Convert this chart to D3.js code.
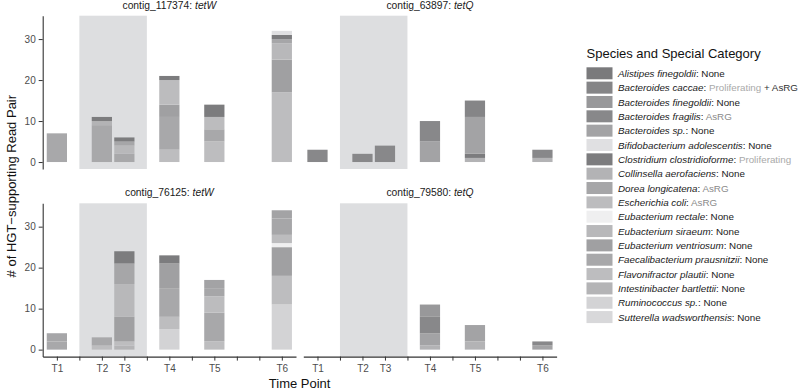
<!DOCTYPE html>
<html>
<head>
<meta charset="utf-8">
<script src="https://cdn.jsdelivr.net/npm/d3@7"></script>
<style>
  body { margin: 0; background: #fff; }
  text { font-family: "Liberation Sans", Arial, sans-serif; }
</style>
</head>
<body>
<script>
// time points: label and position on the (day-like) x scale
const timeLabels = ["T1", "T2", "T3", "T4", "T5", "T6"]
const timePos = [1, 3, 4, 6, 8, 11]
const tickPos = d3.range(1, 12)
const shadedSpan = [2, 5]
const yTicks = [0, 10, 20, 30]

const species = [
  "Alistipes finegoldii", "Bacteroides caccae", "Bacteroides finegoldii",
  "Bacteroides fragilis", "Bacteroides sp.", "Bifidobacterium adolescentis",
  "Clostridium clostridioforme", "Collinsella aerofaciens", "Dorea longicatena",
  "Escherichia coli", "Eubacterium rectale", "Eubacterium siraeum",
  "Eubacterium ventriosum", "Faecalibacterium prausnitzii", "Flavonifractor plautii",
  "Intestinibacter bartlettii", "Ruminococcus sp.", "Sutterella wadsworthensis"
]
const specialCategory = [
  "None", "Proliferating + AsRG", "None", "AsRG", "None", "None",
  "Proliferating", "None", "AsRG", "AsRG", "None", "None",
  "None", "None", "None", "None", "None", "None"
]
const shades = [
  "#7a7a7c", "#858587", "#98989a", "#88888a", "#a3a3a5", "#e0e0e2",
  "#7c7c7e", "#b3b3b5", "#a6a6a8", "#bcbcbe", "#efeff0", "#b8b8ba",
  "#a0a0a2", "#a8a8aa", "#bdbdbf", "#b4b4b6", "#d3d3d5", "#d8d8da"
]

const panelTitles = [
  ["contig_117374: ", "tetW"], ["contig_63897: ", "tetQ"],
  ["contig_76125: ", "tetW"], ["contig_79580: ", "tetQ"]
]

// [time point, species, read pairs]
const contig117374 = [
  ["T1", "Faecalibacterium prausnitzii", 7],
  ["T2", "Clostridium clostridioforme", 1], ["T2", "Collinsella aerofaciens", 1],
  ["T2", "Faecalibacterium prausnitzii", 9],
  ["T3", "Clostridium clostridioforme", 1], ["T3", "Dorea longicatena", 1],
  ["T3", "Eubacterium siraeum", 2], ["T3", "Faecalibacterium prausnitzii", 2],
  ["T4", "Clostridium clostridioforme", 1], ["T4", "Escherichia coli", 6],
  ["T4", "Eubacterium ventriosum", 3], ["T4", "Faecalibacterium prausnitzii", 8],
  ["T4", "Flavonifractor plautii", 3],
  ["T5", "Clostridium clostridioforme", 3], ["T5", "Escherichia coli", 3],
  ["T5", "Faecalibacterium prausnitzii", 3], ["T5", "Flavonifractor plautii", 5],
  ["T6", "Bifidobacterium adolescentis", 1], ["T6", "Clostridium clostridioforme", 1],
  ["T6", "Dorea longicatena", 1], ["T6", "Eubacterium siraeum", 4],
  ["T6", "Eubacterium ventriosum", 8], ["T6", "Flavonifractor plautii", 17]
]
const contig63897 = [
  ["T1", "Bacteroides fragilis", 3],
  ["T2", "Bacteroides fragilis", 2],
  ["T3", "Bacteroides fragilis", 4],
  ["T4", "Bacteroides fragilis", 5], ["T4", "Bacteroides sp.", 5],
  ["T5", "Bacteroides caccae", 4], ["T5", "Bacteroides sp.", 9],
  ["T5", "Clostridium clostridioforme", 1], ["T5", "Collinsella aerofaciens", 1],
  ["T6", "Bacteroides fragilis", 2], ["T6", "Collinsella aerofaciens", 1]
]
const contig76125 = [
  ["T1", "Dorea longicatena", 2], ["T1", "Faecalibacterium prausnitzii", 2],
  ["T2", "Faecalibacterium prausnitzii", 2], ["T2", "Flavonifractor plautii", 1],
  ["T3", "Clostridium clostridioforme", 3], ["T3", "Dorea longicatena", 5],
  ["T3", "Eubacterium siraeum", 8], ["T3", "Eubacterium ventriosum", 6],
  ["T3", "Flavonifractor plautii", 1], ["T3", "Intestinibacter bartlettii", 1],
  ["T4", "Clostridium clostridioforme", 2], ["T4", "Eubacterium ventriosum", 6],
  ["T4", "Faecalibacterium prausnitzii", 7], ["T4", "Flavonifractor plautii", 3],
  ["T4", "Ruminococcus sp.", 5],
  ["T5", "Bacteroides sp.", 2], ["T5", "Dorea longicatena", 2],
  ["T5", "Escherichia coli", 4], ["T5", "Faecalibacterium prausnitzii", 7],
  ["T5", "Flavonifractor plautii", 2],
  ["T6", "Bacteroides sp.", 2], ["T6", "Dorea longicatena", 4],
  ["T6", "Escherichia coli", 2], ["T6", "Eubacterium rectale", 1],
  ["T6", "Eubacterium ventriosum", 7], ["T6", "Flavonifractor plautii", 7],
  ["T6", "Ruminococcus sp.", 11]
]
const contig79580 = [
  ["T4", "Bacteroides finegoldii", 3], ["T4", "Bacteroides fragilis", 4],
  ["T4", "Bacteroides sp.", 3], ["T4", "Collinsella aerofaciens", 1],
  ["T5", "Bacteroides sp.", 4], ["T5", "Collinsella aerofaciens", 2],
  ["T6", "Bacteroides fragilis", 1], ["T6", "Bacteroides sp.", 1]
]
const panelCounts = [contig117374, contig63897, contig76125, contig79580]

const width = 800
const height = 391
const panelW = 253.3
const panelH = 153.3
const panelLeft = [42.7, 303.3]
const panelTop = [15.7, 203.3]

const svg = d3.select("body").append("svg")
  .attr("width", width)
  .attr("height", height)

const x = d3.scaleLinear().domain([0.37, 11.63]).range([0, panelW])
const y = d3.scaleLinear().domain([-1.7, 35.7]).range([panelH, 0])
const shade = d3.scaleOrdinal().domain(species).range(shades)

// first factor level sits on top of the stack, so stack keys in reverse
const stack = d3.stack().keys(species.slice().reverse()).value((row, k) => row[k] || 0)

panelCounts.forEach((counts, i) => {
  const col = i % 2, row = Math.floor(i / 2)
  const g = svg.append("g")
    .attr("transform", `translate(${panelLeft[col]}, ${panelTop[row]})`)

  g.append("rect")
    .attr("x", x(shadedSpan[0]))
    .attr("width", x(shadedSpan[1]) - x(shadedSpan[0]))
    .attr("y", 0)
    .attr("height", panelH)
    .attr("fill", "#dddee0")

  const table = timeLabels.map(t => {
    const r = { time: t }
    counts.filter(c => c[0] === t).forEach(c => { r[c[1]] = c[2] })
    return r
  })
  const posOf = t => timePos[timeLabels.indexOf(t)]

  g.selectAll("g.layer")
    .data(stack(table))
    .enter().append("g")
    .attr("class", "layer")
    .attr("fill", d => shade(d.key))
    .selectAll("rect")
    .data(d => d.filter(s => s[1] > s[0]))
    .enter().append("rect")
    .attr("x", d => x(posOf(d.data.time) - 0.45))
    .attr("width", x(0.9) - x(0))
    .attr("y", d => y(d[1]))
    .attr("height", d => y(d[0]) - y(d[1]))

  const title = g.append("text")
    .attr("x", panelW / 2)
    .attr("y", -7)
    .attr("text-anchor", "middle")
    .attr("font-size", 10.3)
    .attr("fill", "#1a1a1a")
  title.append("tspan").text(panelTitles[i][0])
  title.append("tspan").attr("font-style", "italic").text(panelTitles[i][1])

  if (col === 0) {
    const ya = g.append("g")
      .call(d3.axisLeft(y).tickValues(yTicks).tickSize(4).tickPadding(3).tickSizeOuter(0))
    ya.selectAll("text").attr("font-size", 10).attr("fill", "#4d4d4d")
    ya.selectAll("line, path").attr("stroke", "#333")
  }
  if (row === 1) {
    const xa = g.append("g")
      .attr("transform", `translate(0, ${panelH})`)
      .call(d3.axisBottom(x).tickValues(tickPos).tickSize(4).tickPadding(4).tickSizeOuter(0)
        .tickFormat(d => timePos.includes(d) ? timeLabels[timePos.indexOf(d)] : ""))
    xa.selectAll("text").attr("font-size", 10).attr("fill", "#4d4d4d")
    xa.selectAll("line, path").attr("stroke", "#333")
  }
})

svg.selectAll(".domain").attr("stroke-width", 1.1)

svg.append("text")
  .attr("transform", `translate(16, ${(panelTop[0] + panelTop[1] + panelH) / 2}) rotate(-90)`)
  .attr("text-anchor", "middle")
  .attr("font-size", 13)
  .attr("fill", "#111")
  .text("# of HGT\u2212supporting Read Pair")

svg.append("text")
  .attr("x", (panelLeft[0] + panelLeft[1] + panelW) / 2)
  .attr("y", 388)
  .attr("text-anchor", "middle")
  .attr("font-size", 13)
  .attr("fill", "#111")
  .text("Time Point")

// legend
const legend = svg.append("g").attr("transform", "translate(586.5, 67.3)")
legend.append("text")
  .attr("x", 0)
  .attr("y", -9)
  .attr("font-size", 13)
  .attr("fill", "#111")
  .text("Species and Special Category")

const rowH = 14.34
const items = legend.selectAll("g.item")
  .data(species)
  .enter().append("g")
  .attr("class", "item")
  .attr("transform", (d, i) => `translate(0, ${i * rowH})`)

items.append("rect")
  .attr("width", 26)
  .attr("height", 12)
  .attr("fill", d => shade(d))

const label = items.append("text")
  .attr("x", 31.5)
  .attr("y", 9.6)
  .attr("font-size", 9.8)
  .attr("fill", "#1a1a1a")
label.append("tspan").attr("font-style", "italic").text(d => d)
label.append("tspan").text(": ")
label.each(function(d, i) {
  const parts = specialCategory[i].split(" + ")
  const t = d3.select(this)
  parts.forEach((p, j) => {
    if (j > 0) t.append("tspan").attr("fill", "#333").text(" + ")
    const c = p === "None" ? "#1a1a1a" : p === "Proliferating" ? "#a9a9a9" : (parts.length > 1 ? "#333" : "#8a8a8a")
    t.append("tspan").attr("fill", c).text(p)
  })
})
</script>
</body>
</html>
